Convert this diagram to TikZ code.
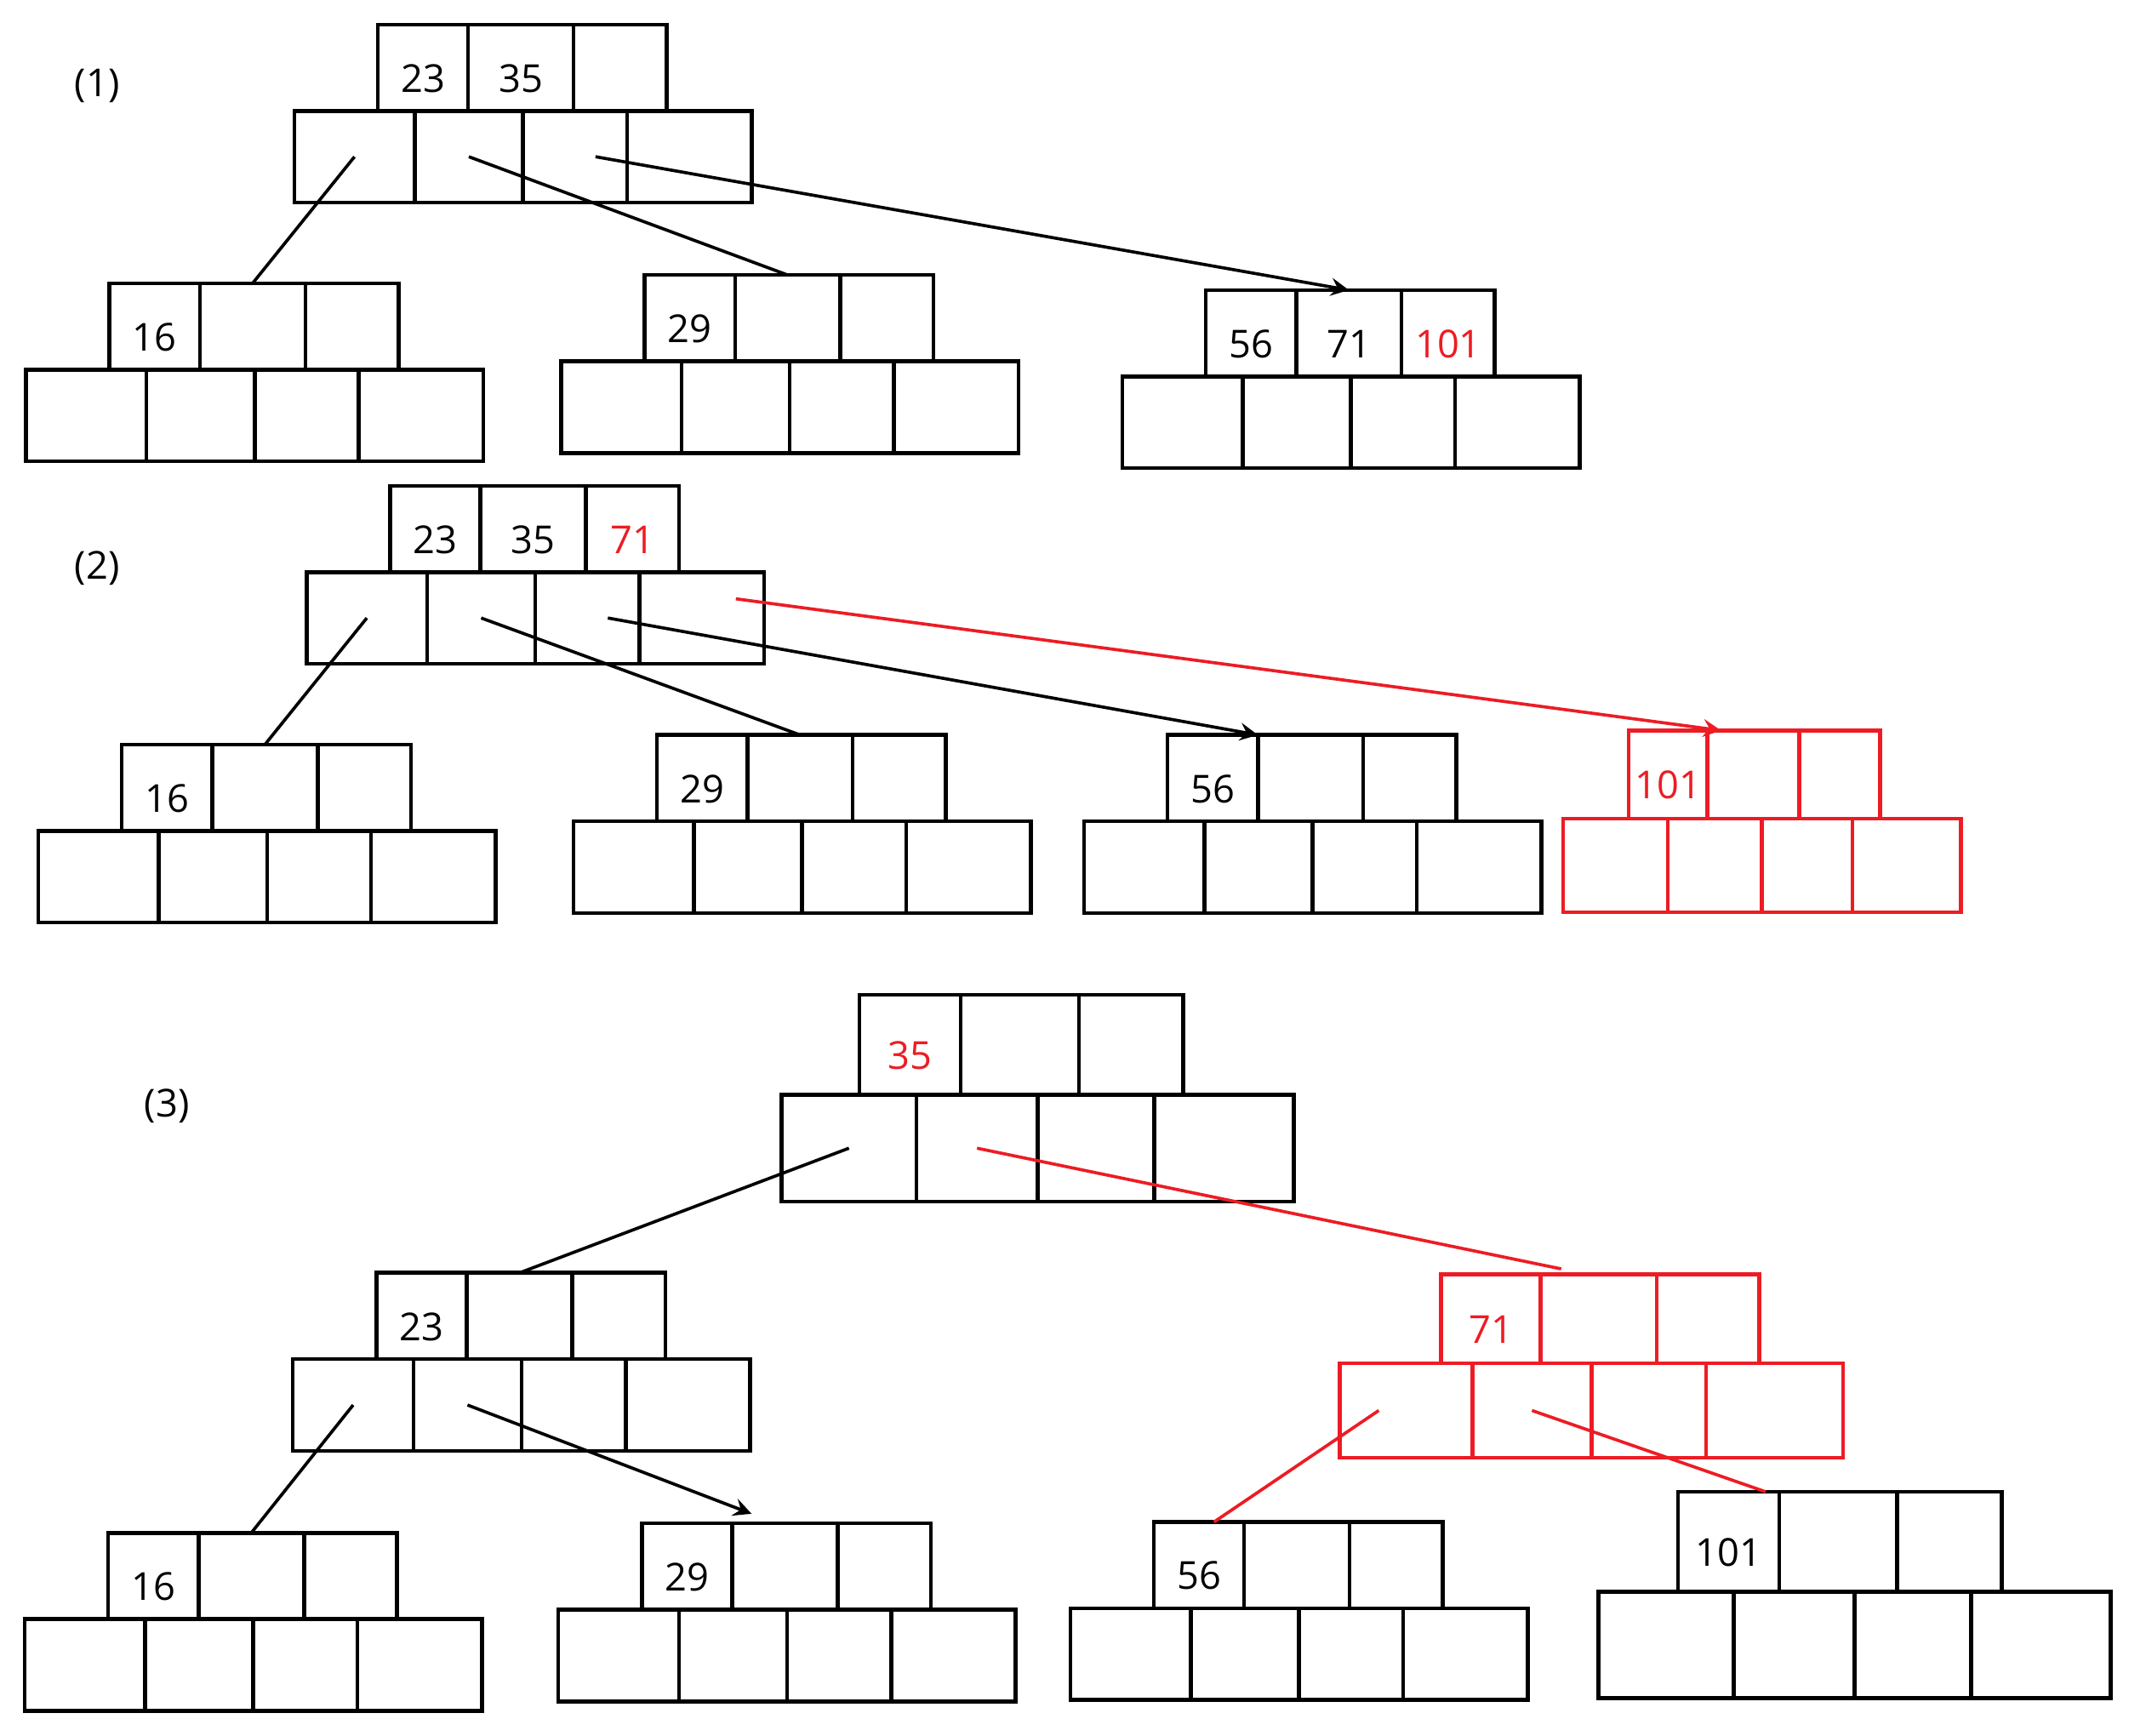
\documentclass[tikz,border=0pt]{standalone}
\usepackage{fontspec}
\setmainfont{Open Sans}
\usetikzlibrary{positioning}
\definecolor{paintred}{RGB}{237,28,36}

% offset of the key row from the left of the pointer row (cm)
\def\btoff{0.61}

% one B-tree node: name, x, y (top of pointer row), xscale, yscale, colour, keys
\newcommand{\btnode}[9]{%
  \node[cell=#6, minimum width=#4*0.88cm, minimum height=#5*0.67cm] (#1-p1) at (#2,#3) {};
  \node[cell=#6, minimum width=#4*0.79cm, minimum height=#5*0.67cm] (#1-p2) at (#1-p1.north east) {};
  \node[cell=#6, minimum width=#4*0.76cm, minimum height=#5*0.67cm] (#1-p3) at (#1-p2.north east) {};
  \node[cell=#6, minimum width=#4*0.91cm, minimum height=#5*0.67cm] (#1-p4) at (#1-p3.north east) {};
  \node[keybox=#6, minimum width=#4*0.66cm, minimum height=#5*0.63cm] (#1-k1) at ([xshift=\btoff cm]#1-p1.north west) {#7};
  \node[keybox=#6, minimum width=#4*0.77cm, minimum height=#5*0.63cm] (#1-k2) at (#1-k1.south east) {#8};
  \node[keybox=#6, minimum width=#4*0.68cm, minimum height=#5*0.63cm] (#1-k3) at (#1-k2.south east) {#9};
}

\tikzset{
  cell/.style={draw=#1, line width=0.8pt, anchor=north west, outer sep=0pt, inner sep=0pt},
  keybox/.style={draw=#1, text=#1, line width=0.8pt, anchor=south west, outer sep=0pt,
    inner sep=0pt, text height=1.9ex, text depth=0pt, font=\fontsize{8}{10}\selectfont},
  link/.style={line width=0.65pt},
  redlink/.style={line width=0.65pt, draw=paintred},
  steplabel/.style={font=\fontsize{8}{10}\selectfont}
}

\begin{document}
\begin{tikzpicture}[x=0.01cm, y=-0.01cm, >={stealth}]
  \useasboundingbox[fill=white] (0,0) rectangle (1568,1268);

  % (1)
  \node[steplabel] (lab1) at (71,63) {(1)};
  \btnode{t1r}{215}{81}{1}{1}{black}{23}{35}{}
  \btnode{t1a}{19}{270}{1}{1}{black}{16}{}{}
  \btnode{t1b}{410}{264}{1}{1}{black}{29}{}{}
  \btnode{t1c}{820}{275}{1}{1}{black}{56}{71}{\textcolor{paintred}{101}}

  \draw[link] (t1r-p1.center) -- (t1a-k2.north);
  \draw[link] (t1r-p2.center) -- (t1b-k2.north);
  \draw[link,->] ([xshift=0.15cm]t1r-p3.center) -- (t1c-k2.north);

  % (2)
  \node[steplabel] (lab2) at (71,415) {(2)};
  \btnode{t2r}{224}{418}{1}{1}{black}{23}{35}{\textcolor{paintred}{71}}
  \btnode{t2a}{28}{607}{1}{1}{black}{16}{}{}
  \btnode{t2b}{419}{600}{1}{1}{black}{29}{}{}
  \btnode{t2c}{792}{600}{1}{1}{black}{56}{}{}
  \def\btoff{0.48}
  \btnode{t2d}{1142}{598}{0.87}{1.02}{paintred}{101}{}{}

  \draw[link] (t2r-p1.center) -- (t2a-k2.north);
  \draw[link] (t2r-p2.center) -- (t2b-k2.north);
  \draw[link,->] ([xshift=0.15cm]t2r-p3.center) -- (t2c-k2.north west);
  \draw[redlink,->] ([xshift=0.25cm,yshift=0.14cm]t2r-p4.center) -- ([xshift=0.1cm]t2d-k2.north west);

  % (3)
  \node[steplabel] (lab3) at (122,808) {(3)};
  \def\btoff{0.57}
  \btnode{t3r}{571}{800}{1.12}{1.16}{black}{\textcolor{paintred}{35}}{}{}
  \def\btoff{0.61}
  \btnode{t3a}{214}{993}{1}{1}{black}{23}{}{}
  \def\btoff{0.74}
  \btnode{t3b}{979}{996}{1.1}{1.03}{paintred}{71}{}{}
  \def\btoff{0.61}
  \btnode{t3c}{18}{1183}{1}{1}{black}{16}{}{}
  \btnode{t3d}{408}{1176}{1}{1}{black}{29}{}{}
  \btnode{t3e}{782}{1175}{1}{1}{black}{56}{}{}
  \def\btoff{0.58}
  \btnode{t3f}{1168}{1163}{1.12}{1.16}{black}{101}{}{}

  \draw[link] (t3r-p1.center) -- (t3a-k2.north);
  \draw[redlink] (t3r-p2.center) -- ([xshift=0.15cm,yshift=0.04cm]t3b-k2.north west);
  \draw[link] (t3a-p1.center) -- (t3c-k2.north);
  \draw[link,->] (t3a-p2.center) -- ([xshift=0.14cm,yshift=0.07cm]t3d-k2.north west);
  \draw[redlink] ([xshift=-0.2cm]t3b-p1.center) -- ([xshift=-0.22cm]t3e-k1.north east);
  \draw[redlink] (t3b-p2.center) -- ([xshift=-0.1cm]t3f-k1.north east);
\end{tikzpicture}
\end{document}
